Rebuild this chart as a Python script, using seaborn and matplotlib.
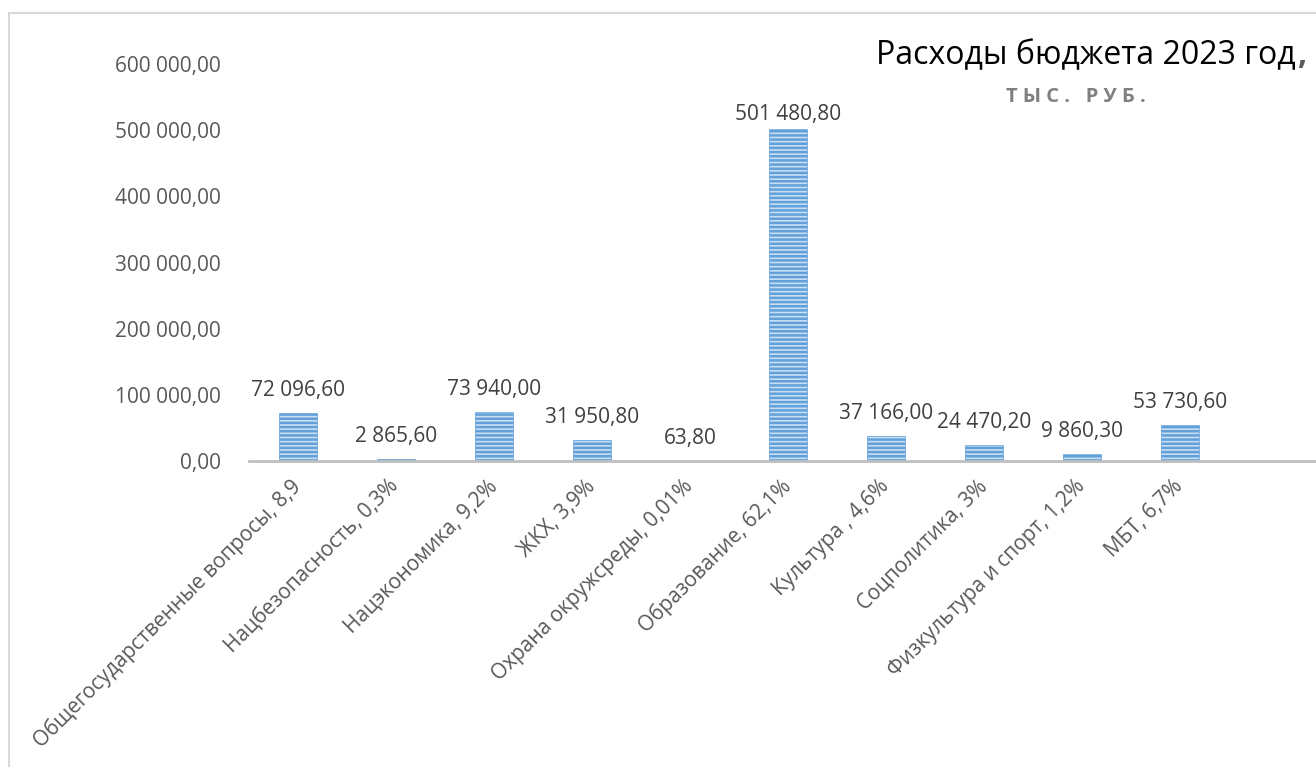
import matplotlib
matplotlib.use("Agg")
import matplotlib.pyplot as plt
import matplotlib.patches as mpatches
import seaborn as sns
import pandas as pd

categories = [
    "Общегосударственные вопросы, 8,9",
    "Нацбезопасность, 0,3%",
    "Нацэкономика, 9,2%",
    "ЖКХ, 3,9%",
    "Охрана окружсреды, 0,01%",
    "Образование, 62,1%",
    "Культура , 4,6%",
    "Соцполитика, 3%",
    "Физкультура и спорт, 1,2%",
    "МБТ, 6,7%",
]
values = [72096.60, 2865.60, 73940.00, 31950.80, 63.80,
          501480.80, 37166.00, 24470.20, 9860.30, 53730.60]
y_ticks = [0, 100000, 200000, 300000, 400000, 500000, 600000]


def ru_number(v):
    '''
    формат числа как в Excel: пробел между тысячами, запятая
    '''
    s = f"{v:,.2f}"
    return s.replace(",", " ").replace(".", ",")


df = pd.DataFrame({"cat": categories, "val": values})

sns.set_style("white")
plt.rcParams['font.family'] = ['Open Sans', 'DejaVu Sans']
plt.rcParams['hatch.linewidth'] = 1.8

W, H = 1316, 767
fig = plt.figure(figsize=(W / 100, H / 100), dpi=100)

# рамка диаграммы
fig.patches.append(mpatches.Rectangle((9 / W, -0.1), 1.2, 1 - 13 / H + 0.1,
                                      transform=fig.transFigure, fill=False,
                                      edgecolor='#d9d9d9', linewidth=1.5))

ax = fig.add_axes([249 / W, 306 / H, 1078 / W, (461 - 64) / H])
# штриховка берёт цвет из edgecolor
sns.barplot(data=df, x="cat", y="val", ax=ax, color='#c9def3', width=0.39,
            saturation=1, edgecolor='#62a0da', linewidth=0.5, hatch='----')

ax.set_xlim(-0.5, 10.5)
ax.set_ylim(0, 600000)
ax.set_yticks(y_ticks)
ax.set_yticklabels([ru_number(t) for t in y_ticks], fontsize=15, color='#595959')
ax.tick_params(axis='y', length=0, pad=20)
ax.tick_params(axis='x', length=0, pad=16)
ax.set_xticks(range(len(categories)))
ax.set_xticklabels(categories, rotation=45, ha='right', va='center',
                   rotation_mode='anchor', fontsize=15, color='#595959')
ax.set_xlabel("")
ax.set_ylabel("")

for s in ['top', 'right', 'left']:
    ax.spines[s].set_visible(False)
ax.spines['bottom'].set_color('#bfbfbf')
ax.spines['bottom'].set_linewidth(2)

for i, v in enumerate(values):
    off = 12 if v < 400000 else 4
    ax.annotate(ru_number(v), (i, v), xytext=(0, off), textcoords='offset pixels',
                ha='center', va='bottom', fontsize=15, color='#404040')

fig.text(1296 / W, 1 - 56 / H, "Расходы бюджета 2023 год", fontsize=23,
         color='black', ha='right', va='center')
fig.text(1297 / W, 1 - 56 / H, ",", fontsize=23, color='#595959',
         fontweight='bold', ha='left', va='center')
fig.text(1076 / W, 1 - 97 / H, "Т Ы С .   Р У Б .", fontsize=14.5,
         color='#808080', fontweight='bold', ha='center', va='center')

fig.savefig("out.png", dpi=100)
